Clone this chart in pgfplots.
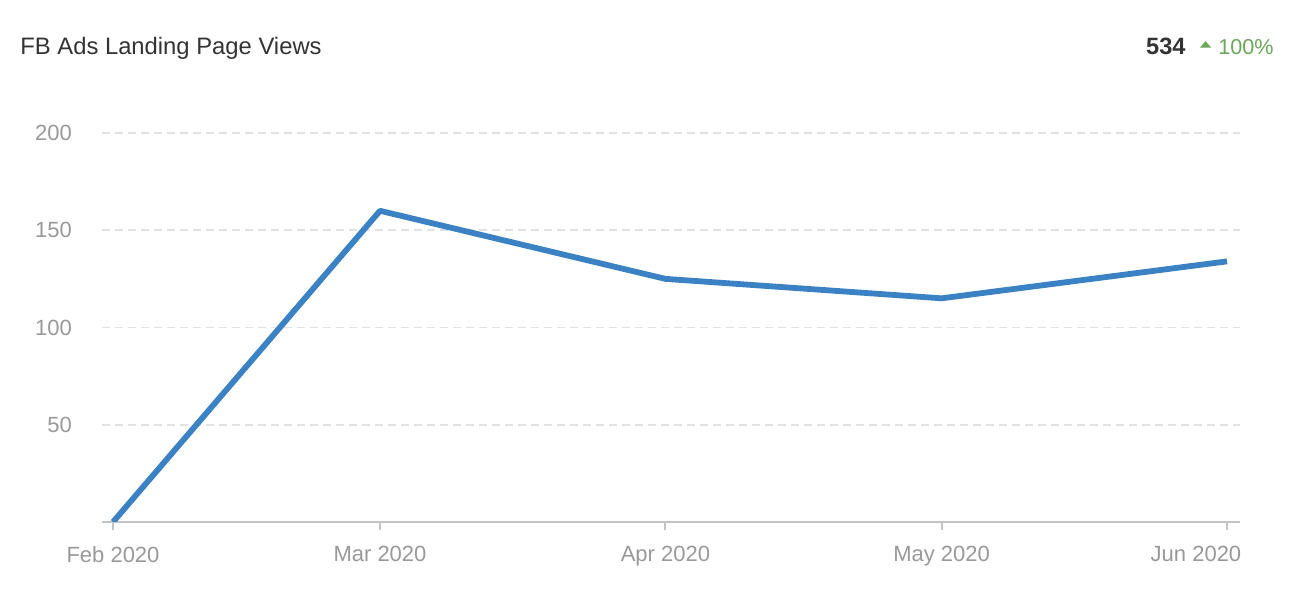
\documentclass[border=0pt]{standalone}
\usepackage{fontspec}
\setmainfont{Liberation Sans}
\usepackage{pgfplots}
\pgfplotsset{compat=1.18}
\definecolor{titlegray}{HTML}{333333}
\definecolor{tickgray}{HTML}{999999}
\definecolor{gridgray}{HTML}{E2E2E2}
\definecolor{axisgray}{HTML}{C4C4C4}
\definecolor{lineblue}{HTML}{3A82C4}
\definecolor{upgreen}{HTML}{6AA85A}
\begin{document}
\begin{tikzpicture}[x=1pt,y=1pt]
\useasboundingbox (0,0) rectangle (649,308);
\node[anchor=base west, text=titlegray, font=\fontsize{11.9}{14}\selectfont, inner sep=0pt] at (10,280.5) {FB Ads Landing Page Views};
\node[anchor=base east, text=titlegray, font=\fontsize{11.8}{14}\bfseries\selectfont, inner sep=0pt] at (593,280.5) {534};
\fill[upgreen] (600,284.2) -- (605.6,284.2) -- (602.8,287.4) -- cycle;
\node[anchor=base east, text=upgreen, font=\fontsize{10.8}{13}\selectfont, inner sep=0pt] at (637,280.5) {100\%};
\begin{axis}[
  at={(51pt,47pt)}, anchor=south west,
  width=569pt, height=194.5pt, scale only axis,
  xmin=-1.195, xmax=122.41,
  ymin=0, ymax=200,
  axis lines*=left,
  axis line style={axisgray, line width=1pt},
  y axis line style={draw=none},
  xtick={0,29,60,90},
  xticklabels={Feb 2020,Mar 2020,Apr 2020,May 2020},
  extra x ticks={121},
  extra x tick labels={Jun 2020},
  extra x tick style={xticklabel style={anchor=north east, xshift=10.65pt}},
  ytick={50,100,150,200},
  tick align=outside,
  x tick style={axisgray, line width=1pt},
  major tick length=4pt,
  y tick style={draw=none},
  ymajorgrids,
  grid style={gridgray, line width=0.8pt, dash pattern=on 4pt off 2.5pt},
  ticklabel style={font=\fontsize{11}{13}\selectfont, text=tickgray},
  xticklabel style={yshift=-4.5pt},
  yticklabel style={xshift=-7.5pt},
  /pgf/number format/assume math mode=true,
]
\addplot[lineblue, line width=2.9pt, line join=round] coordinates {
  (0,0) (29,160) (60,125) (90,115) (121,134)
};
\end{axis}
\end{tikzpicture}
\end{document}
